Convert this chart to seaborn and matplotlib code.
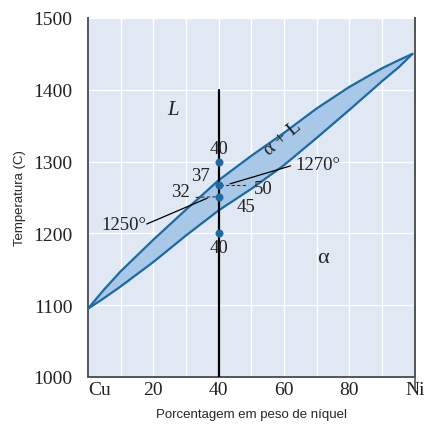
import numpy as np
import pandas as pd
import matplotlib.pyplot as plt
import seaborn as sns

# composition (% Ni) and phase boundaries
ni_pct = [0, 5, 10, 20, 30, 40, 50, 60, 70, 80, 90, 95, 99.3]
liquidus = [1095, 1122, 1147, 1191, 1233, 1274, 1308, 1340, 1374, 1404, 1430, 1441, 1450]
solidus = [1095, 1110, 1126, 1160, 1197, 1232, 1262, 1295, 1333, 1372, 1412, 1431, 1450]

# alloy at 40 % Ni and the marked temperatures
alloy_x = 40
alloy_top = 1400
point_temps = [1300, 1267, 1250, 1200]

x_ticks = [0, 20, 40, 60, 80, 100]
x_ticklabels = ['Cu', '20', '40', '60', '80', 'Ni']
y_ticks = [1000, 1100, 1200, 1300, 1400, 1500]

bg = '#dfe8f3'
edge = '#1b6aa2'
fill = '#a9c7e6'
serif = 'Liberation Serif'

sns.set_style('white', {'axes.facecolor': bg})
plt.rcParams['font.family'] = ['Liberation Sans', 'DejaVu Sans']

fig = plt.figure(figsize=(4.46, 4.31), dpi=100)
ax = fig.add_axes([0.197, 0.123, 0.733, 0.833])

df = pd.DataFrame({'ni': ni_pct, 'liq': liquidus, 'sol': solidus})
ax.fill_between(df['ni'], df['sol'], df['liq'], color=fill, lw=0, zorder=2)
sns.lineplot(data=df, x='ni', y='liq', color=edge, lw=1.6, ax=ax, zorder=3)
sns.lineplot(data=df, x='ni', y='sol', color=edge, lw=1.6, ax=ax, zorder=3)

ax.plot([alloy_x, alloy_x], [1000, alloy_top], color='black', lw=1.6, zorder=4)
pts = pd.DataFrame({'x': [alloy_x] * len(point_temps), 'T': point_temps})
sns.scatterplot(data=pts, x='x', y='T', color=edge, s=28, edgecolor=edge,
                ax=ax, zorder=5)

# tie line pieces and leaders
ax.plot([40.5, 49], [1267, 1267], color='#333333', lw=0.8, ls=(0, (3, 2)), zorder=4)
ax.plot([33, 39.5], [1250, 1251], color='#333333', lw=0.8, ls=(0, (3, 2)), zorder=4)
ax.plot([18.0, 36.5], [1213, 1249], color='black', lw=0.9, zorder=4)
ax.plot([62.0, 43.5], [1294, 1269], color='black', lw=0.9, zorder=4)

tk = dict(family=serif, fontsize=13.5, color='#222222', zorder=6)
ax.text(40, 1318, '40', ha='center', va='center', **tk)
ax.text(34.3, 1281, '37', ha='center', va='center', **tk)
ax.text(28.4, 1259, '32', ha='center', va='center', **tk)
ax.text(53.5, 1263, '50', ha='center', va='center', **tk)
ax.text(48.3, 1238, '45', ha='center', va='center', **tk)
ax.text(40, 1181, '40', ha='center', va='center', **tk)
ax.text(11.0, 1213, '1250°', ha='center', va='center', **tk)
ax.text(70.5, 1296, '1270°', ha='center', va='center', **tk)
ax.text(26, 1373, 'L', ha='center', va='center', style='italic',
        **{**tk, 'fontsize': 15})
ax.text(72, 1166, 'α', ha='center', va='center', **{**tk, 'fontsize': 16})
ax.text(59.5, 1333, 'α + L', ha='center', va='center', rotation=40,
        **{**tk, 'fontsize': 14})

ax.set_xlim(0, 100)
ax.set_ylim(1000, 1500)
ax.set_xticks(x_ticks)
ax.set_xticklabels(x_ticklabels)
ax.set_yticks(y_ticks)
ax.set_xticks(np.arange(10, 100, 20), minor=True)
ax.grid(True, which='both', axis='x', color='white', lw=1.0, zorder=1)
ax.grid(True, which='major', axis='y', color='white', lw=1.0, zorder=1)
ax.set_axisbelow(True)

for lab in ax.get_xticklabels() + ax.get_yticklabels():
    lab.set_family(serif)
    lab.set_fontsize(14)
    lab.set_color('#222222')
ax.get_xticklabels()[0].set_horizontalalignment('left')

ax.tick_params(axis='x', which='major', direction='in', length=8, width=1.2,
               color='#555555', pad=3)
ax.tick_params(axis='x', which='minor', length=0)
ax.tick_params(axis='y', direction='out', length=9, width=1.2, color='#555555',
               right=True, pad=2)
for t in ax.yaxis.get_major_ticks():
    t.tick2line.set_marker(3)  # inward on the right side
    t.tick2line.set_markersize(9)

for s in ['left', 'bottom', 'right']:
    ax.spines[s].set_color('#555555')
    ax.spines[s].set_linewidth(1.4)
ax.spines['top'].set_visible(False)

ax.set_xlabel('Porcentagem em peso de níquel', fontsize=9.5, labelpad=7)
ax.set_ylabel('Temperatura (C)', fontsize=9.5, labelpad=5)

fig.savefig('out.png', dpi=100)
